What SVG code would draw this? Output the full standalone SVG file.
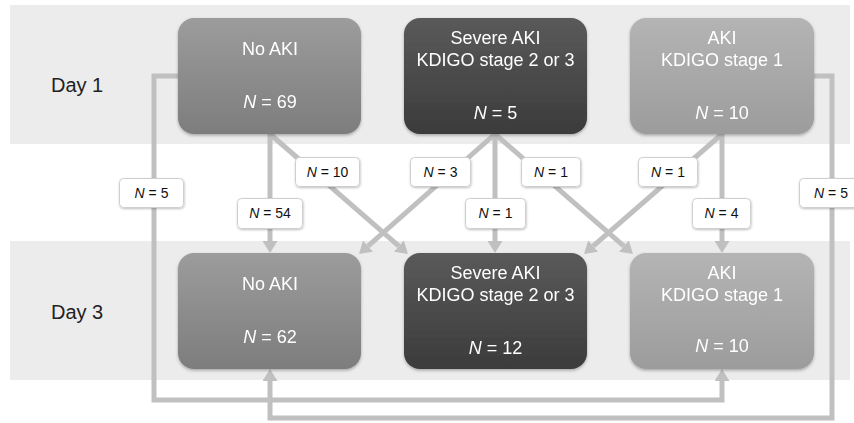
<svg xmlns="http://www.w3.org/2000/svg" width="854" height="423" viewBox="0 0 854 423">
<defs>
<linearGradient id="gNo" x1="0" y1="0" x2="0" y2="1"><stop offset="0" stop-color="#9c9c9c"/><stop offset="1" stop-color="#7d7d7d"/></linearGradient>
<linearGradient id="gSev" x1="0" y1="0" x2="0" y2="1"><stop offset="0" stop-color="#5a5a5a"/><stop offset="1" stop-color="#3b3b3b"/></linearGradient>
<linearGradient id="gAki" x1="0" y1="0" x2="0" y2="1"><stop offset="0" stop-color="#b4b4b4"/><stop offset="1" stop-color="#9c9c9c"/></linearGradient>
<filter id="sh" x="-10%" y="-10%" width="120%" height="125%"><feDropShadow dx="0" dy="1.5" stdDeviation="1.5" flood-color="#000" flood-opacity="0.3"/></filter>
<filter id="shl" x="-10%" y="-10%" width="120%" height="130%"><feDropShadow dx="0.5" dy="1" stdDeviation="0.8" flood-color="#000" flood-opacity="0.25"/></filter>
<marker id="ah" viewBox="0 0 12 15" refX="0" refY="7.5" markerWidth="12" markerHeight="15" markerUnits="userSpaceOnUse" orient="auto"><path d="M0,0 L12,7.5 L0,15 Z" fill="#c0c0c0"/></marker>
</defs>
<style>
.band{fill:#ececec}
.day{font-family:"Liberation Sans",Arial,sans-serif;font-size:20px;fill:#222}
.nt{font-family:"Liberation Sans",Arial,sans-serif;font-size:18px;fill:#fff;text-anchor:middle}
.ln{fill:none;stroke:#c0c0c0;stroke-width:5;stroke-linejoin:miter}
.arr{marker-end:url(#ah)}
.lb{fill:#fff;stroke:#cfcfcf;stroke-width:1}
.lt{font-family:"Liberation Sans",Arial,sans-serif;font-size:14px;fill:#111;text-anchor:middle}
i,.it{font-style:italic}
</style>
<rect class="band" x="10" y="5" width="840" height="139"/>
<rect class="band" x="10" y="241" width="840" height="139"/>
<text class="day" x="51" y="92">Day 1</text>
<text class="day" x="51" y="319">Day 3</text>
<g id="connectors">
<path class="ln arr" d="M270,134 V241"/>
<path class="ln arr" d="M495,134 V241"/>
<path class="ln arr" d="M722,134 V241"/>
<path class="ln arr" d="M270,134 L398.9,246.1"/>
<path class="ln arr" d="M495,134 L368,246.1"/>
<path class="ln arr" d="M495,134 L623.9,246.1"/>
<path class="ln arr" d="M722,134 L593.1,246.1"/>
<path class="ln arr" d="M178,76 H154 V400 H722 V381"/>
<path class="ln arr" d="M814,76 H832 V418 H270 V381"/>
<g filter="url(#shl)">
<rect class="lb" x="119.5" y="178.5" width="64" height="29" rx="4"/>
<rect class="lb" x="237.5" y="198.5" width="65" height="30" rx="4"/>
<rect class="lb" x="295.5" y="157.5" width="64" height="29" rx="4"/>
<rect class="lb" x="410.5" y="157.5" width="60" height="29" rx="4"/>
<rect class="lb" x="465.5" y="198.5" width="60" height="30" rx="4"/>
<rect class="lb" x="521.5" y="157.5" width="59" height="29" rx="4"/>
<rect class="lb" x="638.5" y="157.5" width="59" height="29" rx="4"/>
<rect class="lb" x="692.5" y="198.5" width="58" height="30" rx="4"/>
<rect class="lb" x="799.5" y="178.5" width="64" height="29" rx="4"/>
</g>
<text class="lt" x="151.5" y="198"><tspan class="it">N</tspan> = 5</text>
<text class="lt" x="270" y="218"><tspan class="it">N</tspan> = 54</text>
<text class="lt" x="327.5" y="177"><tspan class="it">N</tspan> = 10</text>
<text class="lt" x="440.5" y="177"><tspan class="it">N</tspan> = 3</text>
<text class="lt" x="495.5" y="218"><tspan class="it">N</tspan> = 1</text>
<text class="lt" x="551" y="177"><tspan class="it">N</tspan> = 1</text>
<text class="lt" x="668" y="177"><tspan class="it">N</tspan> = 1</text>
<text class="lt" x="721.5" y="218"><tspan class="it">N</tspan> = 4</text>
<text class="lt" x="831" y="198"><tspan class="it">N</tspan> = 5</text>
</g>
<g id="d1-noaki" filter="url(#sh)">
<rect x="178" y="18" width="183" height="116" rx="16" fill="url(#gNo)"/>
<text class="nt" x="270" y="55">No AKI</text>
<text class="nt" x="270" y="108"><tspan class="it">N</tspan> = 69</text>
</g>
<g id="d1-severe" filter="url(#sh)">
<rect x="404" y="18" width="183" height="116" rx="16" fill="url(#gSev)"/>
<text class="nt" x="495.5" y="44">Severe AKI</text>
<text class="nt" x="495.5" y="66">KDIGO stage 2 or 3</text>
<text class="nt" x="495.5" y="119"><tspan class="it">N</tspan> = 5</text>
</g>
<g id="d1-aki" filter="url(#sh)">
<rect x="630" y="18" width="184" height="116" rx="16" fill="url(#gAki)"/>
<text class="nt" x="722" y="44">AKI</text>
<text class="nt" x="722" y="66">KDIGO stage 1</text>
<text class="nt" x="722" y="119"><tspan class="it">N</tspan> = 10</text>
</g>
<g id="d3-noaki" filter="url(#sh)">
<rect x="178" y="253" width="183" height="116" rx="16" fill="url(#gNo)"/>
<text class="nt" x="270" y="290">No AKI</text>
<text class="nt" x="270" y="343"><tspan class="it">N</tspan> = 62</text>
</g>
<g id="d3-severe" filter="url(#sh)">
<rect x="404" y="253" width="183" height="116" rx="16" fill="url(#gSev)"/>
<text class="nt" x="495.5" y="279">Severe AKI</text>
<text class="nt" x="495.5" y="301">KDIGO stage 2 or 3</text>
<text class="nt" x="495.5" y="354"><tspan class="it">N</tspan> = 12</text>
</g>
<g id="d3-aki" filter="url(#sh)">
<rect x="630" y="253" width="184" height="116" rx="16" fill="url(#gAki)"/>
<text class="nt" x="722" y="279">AKI</text>
<text class="nt" x="722" y="301">KDIGO stage 1</text>
<text class="nt" x="722" y="352"><tspan class="it">N</tspan> = 10</text>
</g>
</svg>
